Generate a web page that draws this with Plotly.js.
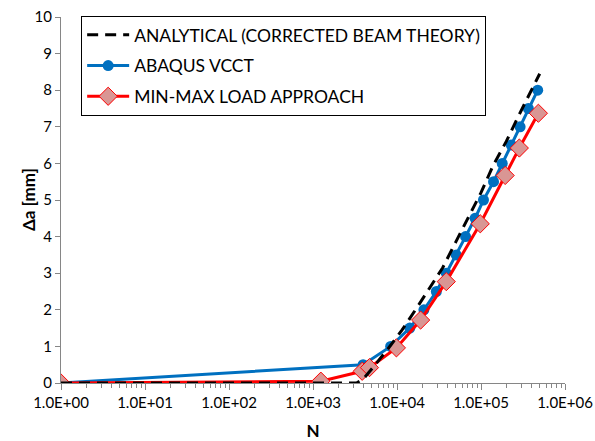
<!DOCTYPE html>
<html>
<head>
<meta charset="utf-8">
<script src="https://cdn.plot.ly/plotly-3.0.1.min.js"></script>
<style>html,body{margin:0;padding:0;background:#fff;} #chart{width:595px;height:441px;}</style>
</head>
<body>
<div id="chart"></div>
<script>
// Analytical (corrected beam theory)
const anaN = [1, 3300, 4000, 5300, 7900, 11500, 18200, 25000, 35000, 50000, 70000, 100000, 140000, 200000, 280000, 380000, 500000];
const anaA = [0, 0, 0.12, 0.45, 0.95, 1.45, 2.14, 2.64, 3.15, 3.85, 4.5, 5.2, 5.95, 6.6, 7.3, 7.9, 8.45];
// ABAQUS VCCT
const vcctN = [1, 3950, 8400, 14200, 20900, 29400, 38600, 50700, 65500, 85000, 107000, 141000, 179000, 229000, 292000, 366000, 473000];
const vcctA = [0, 0.5, 1.0, 1.5, 2.0, 2.5, 3.0, 3.5, 4.0, 4.5, 5.0, 5.5, 6.0, 6.5, 7.0, 7.5, 8.0];
// Min-max load approach
const mmN = [1, 1240, 3850, 4700, 9840, 19100, 38600, 98000, 194000, 286000, 482000];
const mmA = [0, 0.05, 0.32, 0.42, 0.96, 1.72, 2.77, 4.35, 5.67, 6.42, 7.37];
// Tick labels
const xTickVals = [1, 10, 100, 1000, 10000, 100000, 1000000];
const xTickText = ["1.0E+00", "1.0E+01", "1.0E+02", "1.0E+03", "1.0E+04", "1.0E+05", "1.0E+06"];

const font = "Lato, 'Open Sans', sans-serif";
const data = [
  {x: vcctN, y: vcctA, name: "ABAQUS VCCT", mode: "lines+markers", legendrank: 2, legendgroup: "b",
   line: {color: "#0070C0", width: 3}, marker: {symbol: "circle", size: 11, color: "#0070C0"}},
  {x: mmN, y: mmA, name: "MIN-MAX LOAD APPROACH", mode: "lines+markers", legendrank: 3, legendgroup: "c",
   line: {color: "#FF0000", width: 3}, marker: {symbol: "diamond", size: 14, color: "#D99694", line: {color: "#FF0000", width: 1}}},
  {x: anaN, y: anaA, name: "ANALYTICAL (CORRECTED BEAM THEORY)", mode: "lines", legendrank: 1, legendgroup: "a",
   line: {color: "#000000", width: 3, dash: "11px,7px"}}
];
const layout = {
  width: 595, height: 441,
  margin: {l: 61, r: 30, t: 17, b: 58},
  paper_bgcolor: "#fff", plot_bgcolor: "#fff",
  font: {family: font, size: 15, color: "#000"},
  showlegend: true,
  legend: {x: 0.04, y: 1.003, xanchor: "left", yanchor: "top", bgcolor: "#fff",
           bordercolor: "#000", borderwidth: 1, font: {family: font, size: 17.5, color: "#000"},
           tracegroupgap: 5, traceorder: "grouped", itemwidth: 42},
  xaxis: {type: "log", range: [0, 6], tickmode: "array", tickvals: xTickVals, ticktext: xTickText,
          showgrid: false, zeroline: false, showline: true, linecolor: "#868686", linewidth: 1,
          ticks: "outside", ticklen: 6, tickcolor: "#868686",
          minor: {dtick: "D1", ticks: "outside", ticklen: 4, tickcolor: "#868686", showgrid: false},
          tickfont: {family: font, size: 15, color: "#000"},
          title: {text: "<b>N</b>", font: {family: font, size: 17, color: "#000"}, standoff: 15}},
  yaxis: {range: [0, 10], dtick: 1, showgrid: false, zeroline: false, showline: true,
          linecolor: "#868686", linewidth: 1, ticks: "outside", ticklen: 5, tickcolor: "#868686",
          tickfont: {family: font, size: 15, color: "#000"}},
  annotations: [{text: "<b>Δa [mm]</b>", xref: "paper", yref: "paper", x: -33 / 504, y: 0.5,
                 xanchor: "center", yanchor: "middle", textangle: -90, showarrow: false,
                 font: {family: font, size: 17, color: "#000"}}]
};
Plotly.newPlot("chart", data, layout, {displayModeBar: false, staticPlot: true});
</script>
</body>
</html>
